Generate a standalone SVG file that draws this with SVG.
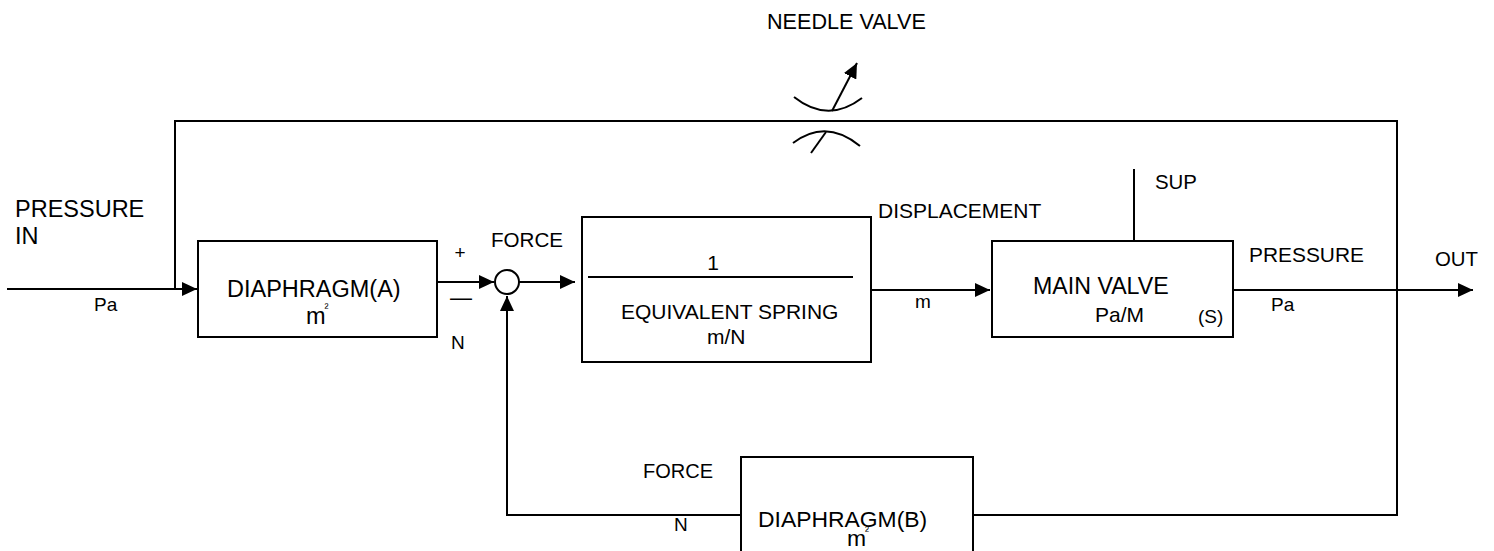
<svg xmlns="http://www.w3.org/2000/svg" width="1494" height="551" viewBox="0 0 1494 551">
<style>
text{font-family:"Liberation Sans",Arial,sans-serif;fill:#000}
.box{fill:#fff;stroke:#000;stroke-width:2}
.ln{fill:none;stroke:#000;stroke-width:2}
.sup{font-size:12px}
</style>
<defs>
<marker id="ah" markerWidth="16" markerHeight="14" refX="15" refY="7" orient="auto" markerUnits="userSpaceOnUse">
<path d="M0,0 L15,7 L0,14 Z" fill="#000"/>
</marker>
</defs>
<rect width="1494" height="551" fill="#fff"/>
<g id="connectors">
<line class="ln" x1="7" y1="289" x2="197" y2="289" marker-end="url(#ah)"/>
<polyline class="ln" points="175,289 175,121 1397,121 1397,515 973,515"/>
<line class="ln" x1="437" y1="282" x2="494" y2="282" marker-end="url(#ah)"/>
<line class="ln" x1="519" y1="282" x2="575" y2="282" marker-end="url(#ah)"/>
<line class="ln" x1="871" y1="290" x2="990" y2="290" marker-end="url(#ah)"/>
<line class="ln" x1="1233" y1="290" x2="1473" y2="290" marker-end="url(#ah)"/>
<line class="ln" x1="1134" y1="169" x2="1134" y2="241"/>
<polyline class="ln" points="741,515 507,515 507,296" marker-end="url(#ah)"/>
</g>
<g id="needle-valve">
<path class="ln" d="M794,97 Q828,124 862,98"/>
<line class="ln" x1="832" y1="111" x2="857" y2="63" marker-end="url(#ah)"/>
<path class="ln" d="M793,143 Q826,118 860,146"/>
<line class="ln" x1="811" y1="153" x2="826" y2="132"/>
<text x="767" y="29" font-size="21.6">NEEDLE VALVE</text>
</g>
<g id="diaphragm-a">
<rect class="box" x="198" y="241" width="239" height="96"/>
<text x="227" y="297" font-size="23.5">DIAPHRAGM(A)</text>
<text x="306" y="324" font-size="23.5">m<tspan class="sup" dx="-1" dy="-12">²</tspan></text>
</g>
<g id="sum">
<circle cx="507" cy="282" r="12" fill="#fff" stroke="#000" stroke-width="2"/>
</g>
<g id="spring">
<rect class="box" x="582" y="217" width="289" height="145"/>
<line class="ln" x1="588" y1="277" x2="853" y2="277"/>
<text x="713" y="270" font-size="21" text-anchor="middle">1</text>
<text x="621" y="319" font-size="21">EQUIVALENT SPRING</text>
<text x="707" y="344" font-size="21">m/N</text>
</g>
<g id="main-valve">
<rect class="box" x="992" y="241" width="241" height="96"/>
<text x="1033" y="294" font-size="23.2">MAIN VALVE</text>
<text x="1095" y="322" font-size="21">Pa/M</text>
<text x="1198" y="323" font-size="19">(S)</text>
</g>
<g id="diaphragm-b">
<rect class="box" x="741" y="457" width="232" height="110"/>
<text x="758" y="527" font-size="22.9">DIAPHRAGM(B)</text>
<text x="847" y="546" font-size="22.9">m<tspan class="sup" dx="-1" dy="-11">²</tspan></text>
</g>
<g id="labels">
<text x="15" y="217" font-size="23.5">PRESSURE</text>
<text x="15" y="244" font-size="23.5">IN</text>
<text x="94" y="311" font-size="19">Pa</text>
<text x="460" y="259" font-size="19" text-anchor="middle">+</text>
<text x="450" y="305" font-size="22">—</text>
<text x="491" y="247" font-size="20.6">FORCE</text>
<text x="451" y="349" font-size="19">N</text>
<text x="878" y="218" font-size="21">DISPLACEMENT</text>
<text x="915" y="308" font-size="19">m</text>
<text x="1155" y="189" font-size="20.4">SUP</text>
<text x="1249" y="262" font-size="20.9">PRESSURE</text>
<text x="1435" y="266" font-size="20.4">OUT</text>
<text x="1271" y="311" font-size="19">Pa</text>
<text x="643" y="478" font-size="20">FORCE</text>
<text x="674" y="531" font-size="19">N</text>
</g>
</svg>
